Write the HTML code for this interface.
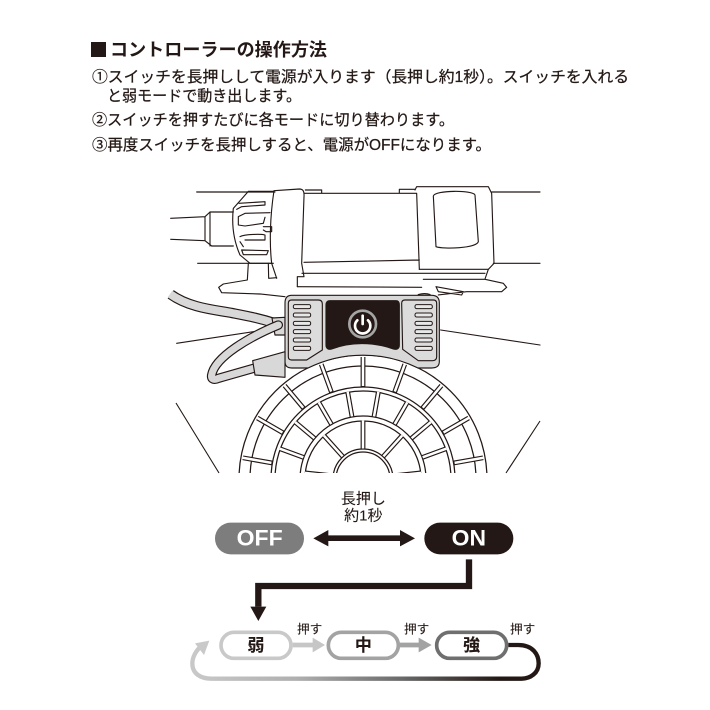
<!DOCTYPE html>
<html><head><meta charset="utf-8"><style>
html,body{margin:0;padding:0;background:#fff;width:710px;height:710px;overflow:hidden}
svg{display:block}
text{font-family:"Liberation Sans","Noto Sans CJK JP",sans-serif;fill:#231815}
.t text{stroke:#231815;stroke-width:.25px}
</style></head><body>
<svg width="710" height="710" viewBox="0 0 710 710" xmlns="http://www.w3.org/2000/svg">
<defs>
<linearGradient id="g" gradientUnits="userSpaceOnUse" x1="30" y1="0" x2="1085" y2="0"><stop offset="0" stop-color="#c9c9c9"/><stop offset=".3" stop-color="#b0b0b0"/><stop offset=".6" stop-color="#6a6a6a"/><stop offset=".88" stop-color="#231815"/></linearGradient>
<clipPath id="wc"><rect x="160" y="340" width="400" height="133"/></clipPath>
<g id="so"><line x1="363" y1="357" x2="363" y2="387" stroke="#231815" stroke-width="4.8"/><line x1="363" y1="356" x2="363" y2="386" stroke="#fff" stroke-width="2.5"/></g>
<g id="sm"><line x1="363" y1="391" x2="363" y2="416" stroke="#231815" stroke-width="4.8"/><line x1="363" y1="390.5" x2="363" y2="415.5" stroke="#fff" stroke-width="2.5"/></g>
<g id="si"><line x1="363" y1="421" x2="363" y2="449" stroke="#231815" stroke-width="4.8"/><line x1="363" y1="420.5" x2="363" y2="448.5" stroke="#fff" stroke-width="2.5"/></g>
</defs>
<rect x="91" y="42" width="15" height="15" fill="#231815"/>
<text x="110" y="56" font-size="18" font-weight="700" textLength="217" lengthAdjust="spacingAndGlyphs">コントローラーの操作方法</text>
<g font-size="15.4" class="t">
<text x="92" y="82" textLength="537" lengthAdjust="spacingAndGlyphs">①スイッチを長押しして電源が入ります（長押し約1秒）。スイッチを入れる</text>
<text x="107" y="101" textLength="194" lengthAdjust="spacingAndGlyphs">と弱モードで動き出します。</text>
<text x="92" y="125" textLength="362" lengthAdjust="spacingAndGlyphs">②スイッチを押すたびに各モードに切り替わります。</text>
<text x="92" y="150" textLength="399" lengthAdjust="spacingAndGlyphs">③再度スイッチを長押しすると、電源がOFFになります。</text>
</g>

<!-- wheel -->
<g clip-path="url(#wc)" fill="none" stroke="#231815" stroke-width="1.25">
<circle cx="363" cy="479" r="124"/><circle cx="363" cy="479" r="113"/>
<circle cx="363" cy="479" r="92"/><circle cx="363" cy="479" r="88"/>
<circle cx="363" cy="479" r="63"/><circle cx="363" cy="479" r="58"/>
<circle cx="363" cy="479" r="30"/><circle cx="363" cy="479" r="27"/>
<g stroke="none">
<use href="#so"/>
<use href="#so" transform="rotate(20 363 479)"/><use href="#so" transform="rotate(-20 363 479)"/>
<use href="#so" transform="rotate(40 363 479)"/><use href="#so" transform="rotate(-40 363 479)"/>
<use href="#so" transform="rotate(60 363 479)"/><use href="#so" transform="rotate(-60 363 479)"/>
<use href="#so" transform="rotate(80 363 479)"/><use href="#so" transform="rotate(-80 363 479)"/>
<use href="#so" transform="rotate(100 363 479)"/><use href="#so" transform="rotate(-100 363 479)"/>
<use href="#sm" transform="rotate(10 363 479)"/><use href="#sm" transform="rotate(-10 363 479)"/>
<use href="#sm" transform="rotate(30 363 479)"/><use href="#sm" transform="rotate(-30 363 479)"/>
<use href="#sm" transform="rotate(50 363 479)"/><use href="#sm" transform="rotate(-50 363 479)"/>
<use href="#sm" transform="rotate(70 363 479)"/><use href="#sm" transform="rotate(-70 363 479)"/>
<use href="#sm" transform="rotate(90 363 479)"/><use href="#sm" transform="rotate(-90 363 479)"/>
<use href="#si"/>
<use href="#si" transform="rotate(42 363 479)"/><use href="#si" transform="rotate(-42 363 479)"/>
<use href="#si" transform="rotate(84 363 479)"/><use href="#si" transform="rotate(-84 363 479)"/>
</g>
</g>
<g fill="none" stroke="#231815" stroke-width="1.1">
<path d="M176 403L219 473M540 421L506 473"/>
</g>

<!-- machine, zoom coordinates -->
<g transform="translate(160 180) scale(.33333)" fill="none" stroke="#231815" stroke-width="3.4" stroke-linejoin="round" stroke-linecap="round">
<path d="M110 36H345M995 36H1140M113 250H340M1000 250H1140M50 490L340 446M842 450L1140 495"/>
<path d="M32 115L135 110L150 96H220M32 178L135 182L155 198H220M135 110V182M150 96V198"/>
<path d="M342 34H265L220 85C215 130 218 175 240 225L270 250H335"/>
<path d="M237 70L315 65V75L245 80L230 88M255 100L330 98M255 100L235 110V135L255 138L310 130L315 112M310 140H335V155H318L310 150M240 170C255 162 305 162 315 165V180H255M240 185L250 200M245 210L325 212L320 224H250L245 210"/>
<path d="M342 32L418 27C430 27 433 35 432 50L425 250L432 290H412V320M342 32C330 110 328 190 335 250L350 295"/>
<path d="M432 40L485 40V30H436M485 40L770 40M718 38V28H765M432 247L778 240M426 280H975M770 40L778 268"/>
<path d="M765 30L770 20H985L995 40L1002 250L985 268L975 297"/>
<path d="M778 268H985"/>
<path d="M820 48C825 30 940 30 945 45L955 185C950 205 850 208 828 200Z"/>
<path d="M265 250L262 300L190 312L176 322L185 338L300 342L375 350M325 250L326 295L350 293M412 320L785 322M790 298H975L1030 310L1040 322L1025 335L920 335L835 345M828 320L910 335L905 345L835 335Z"/>
<!-- cable behind -->
<path d="M32 343C90 385 170 390 216 399S300 415 345 430" stroke-width="31" stroke="#231815" stroke-linecap="butt"/>
<path d="M30 342C90 385 170 390 216 399S300 415 345 430" stroke-width="24" stroke="#d8d8d8" stroke-linecap="butt"/>
<path d="M336 414L375 412V465H345Z" fill="#d8d8d8"/>
<!-- controller -->
<path d="M395 346H815Q838 346 838 369V545Q838 564 815 564H774A372 372 0 0 0 444 564H395Q375 564 375 545V369Q375 346 395 346Z" fill="#d8d8d8"/>
<path d="M395 360H475Q487 360 487 372V510L440 540H395Q385 540 385 530V370Q385 360 395 360ZM735 360H820Q830 360 830 370V530Q830 542 818 542H775L728 508L725 370Q725 360 735 360Z" fill="#dcdcdc"/>
<path d="M510 362H708Q718 362 718 375V495C718 505 712 510 700 507C640 485 570 485 515 507C505 510 498 505 498 495V375Q498 362 510 362Z" fill="#231815"/>
<path d="M775 344Q795 338 810 344" stroke-width="4"/>
<g fill="#e8e8e8" stroke-width="3"><rect x="400" y="374" width="52" height="12" rx="5"/><rect x="400" y="399" width="52" height="12" rx="5"/><rect x="400" y="424" width="52" height="12" rx="5"/><rect x="400" y="449" width="52" height="12" rx="5"/><rect x="400" y="474" width="52" height="12" rx="5"/><rect x="400" y="499" width="52" height="12" rx="5"/><rect x="765" y="374" width="52" height="12" rx="5"/><rect x="765" y="399" width="52" height="12" rx="5"/><rect x="765" y="424" width="52" height="12" rx="5"/><rect x="765" y="449" width="52" height="12" rx="5"/><rect x="765" y="474" width="52" height="12" rx="5"/><rect x="765" y="499" width="52" height="12" rx="5"/></g>
<circle cx="608" cy="432" r="40" stroke="#a5a5a5" stroke-width="8"/>
<path d="M592 421A23 23 0 1 0 624 421M608 407V432" stroke="#fff" stroke-width="8"/>
<path d="M355 435C270 470 165 530 155 585C152 600 165 600 175 595L280 565" stroke-width="28" stroke="#231815"/>
<path d="M355 435C270 470 165 530 155 585C152 600 165 600 175 595L280 565" stroke-width="21" stroke="#d8d8d8"/>
<path d="M278 542L375 515V592L285 585Z" fill="#d8d8d8"/>
</g>

<!-- flow, zoom coordinates -->
<g transform="translate(180 480) scale(.33333)">
<g class="t"><text x="550" y="70" text-anchor="middle" font-size="45">長押し</text>
<text x="550" y="122" text-anchor="middle" font-size="45">約1秒</text></g>
<rect x="105" y="128" width="267" height="95" rx="47" fill="#7d7d7d"/>
<rect x="733" y="128" width="267" height="95" rx="47" fill="#231815"/>
<text x="170" y="197" font-size="66" font-weight="700" style="fill:#fff" textLength="138" lengthAdjust="spacingAndGlyphs">OFF</text>
<text x="815" y="197" font-size="66" font-weight="700" style="fill:#fff" textLength="103" lengthAdjust="spacingAndGlyphs">ON</text>
<path d="M400 175L445 150V166H660V150L705 175L660 199V183H445V199Z" fill="#231815"/>
<path d="M867 238V318H235V380" fill="none" stroke="#231815" stroke-width="19"/>
<path d="M211 380H259L235 423Z" fill="#231815"/>
<path d="M338 495H402" stroke="#c6c6c6" stroke-width="14"/><path d="M398 473L435 495L398 517Z" fill="#c6c6c6"/>
<path d="M660 495H722" stroke="#a3a3a3" stroke-width="14"/><path d="M716 473L755 495L716 517Z" fill="#a3a3a3"/>
<path d="M985 495H1015C1060 495 1076 525 1076 550C1076 580 1050 596 1025 596H95C60 596 37 580 37 550C37 530 50 510 62 500" fill="none" stroke="url(#g)" stroke-width="13"/>
<path d="M45 490L88 482L72 525Z" fill="#c9c9c9"/>
<rect x="123" y="457" width="210" height="78" rx="39" fill="#fff" stroke="#c9c9c9" stroke-width="11"/>
<rect x="445" y="457" width="210" height="78" rx="39" fill="#fff" stroke="#a3a3a3" stroke-width="11"/>
<rect x="770" y="457" width="210" height="78" rx="39" fill="#fff" stroke="#6f6f6f" stroke-width="11"/>
<g class="t" style="stroke-width:1"><text x="228" y="513" text-anchor="middle" font-size="51" font-weight="700">弱</text>
<text x="550" y="513" text-anchor="middle" font-size="51" font-weight="700">中</text>
<text x="875" y="513" text-anchor="middle" font-size="51" font-weight="700">強</text>
<text x="389" y="461" text-anchor="middle" font-size="38">押す</text>
<text x="710" y="461" text-anchor="middle" font-size="38">押す</text>
<text x="1028" y="461" text-anchor="middle" font-size="38">押す</text></g>
</g>
</svg>
</body></html>
